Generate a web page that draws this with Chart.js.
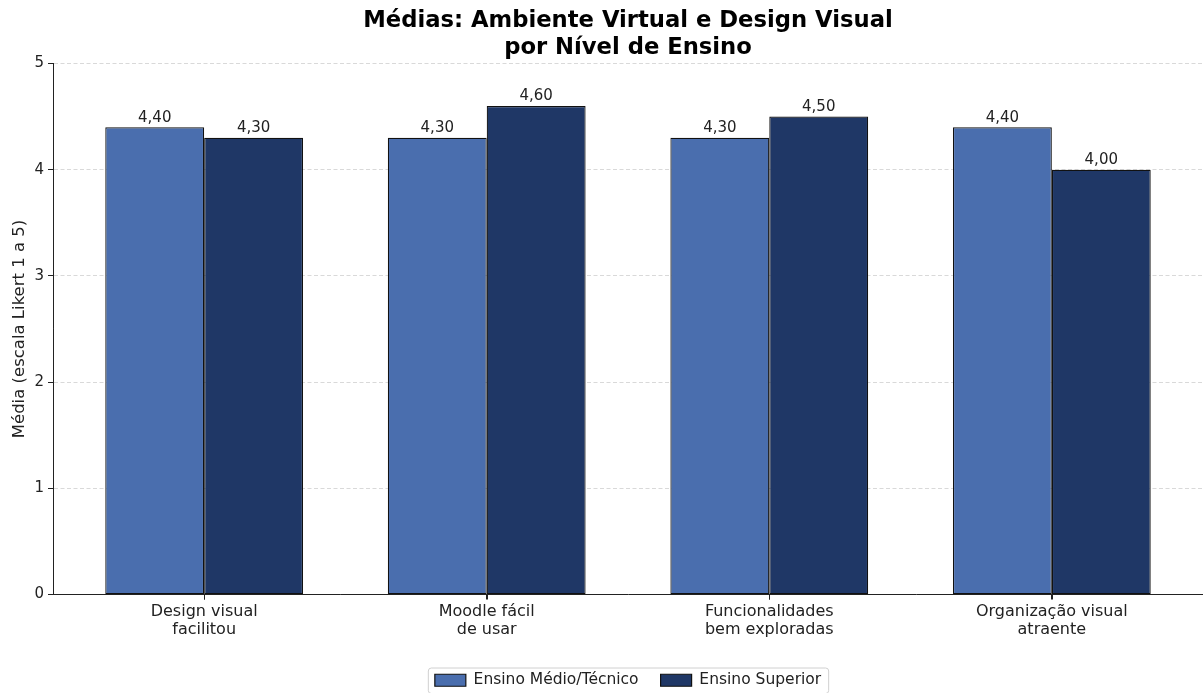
<!DOCTYPE html>
<html lang="pt-BR">
<head>
<meta charset="utf-8">
<title>Médias por Nível de Ensino</title>
<script src="https://cdn.jsdelivr.net/npm/chart.js@4/dist/chart.umd.min.js"></script>
<style>
    html, body { margin: 0; padding: 0; background: #ffffff; }
    #wrap { width: 1203px; height: 693px; }
</style>
</head>
<body>
<div id="wrap"><canvas id="mediasChart" width="1203" height="693"></canvas></div>
<script>
// Itens avaliados (eixo x) e médias por grupo
const categories = [
    ['Design visual', 'facilitou'],
    ['Moodle fácil', 'de usar'],
    ['Funcionalidades', 'bem exploradas'],
    ['Organização visual', 'atraente']
];
const medioTecnico = [4.40, 4.30, 4.30, 4.40];
const superior = [4.30, 4.60, 4.50, 4.00];
const yTicks = [0, 1, 2, 3, 4, 5];

const FONT = 'DejaVu Sans';
const TEXT = '#222222';

// Escreve o valor de cada barra logo acima dela (formato 4,40)
const valueLabels = {
    id: 'valueLabels',
    afterDatasetsDraw(chart) {
        const ctx = chart.ctx;
        ctx.save();
        ctx.font = `15px "${FONT}"`;
        ctx.fillStyle = TEXT;
        ctx.textAlign = 'center';
        ctx.textBaseline = 'bottom';
        chart.data.datasets.forEach((ds, di) => {
            chart.getDatasetMeta(di).data.forEach((bar, i) => {
                const v = ds.data[i].y;
                ctx.fillText(v.toFixed(2).replace('.', ','), bar.x, bar.y - 2);
            });
        });
        ctx.restore();
    }
};

// Marcas de tique do eixo x, centradas em cada grupo
const xTickMarks = {
    id: 'xTickMarks',
    afterDraw(chart) {
        const xs = chart.scales.x;
        const ctx = chart.ctx;
        ctx.save();
        ctx.strokeStyle = TEXT;
        ctx.lineWidth = 1;
        ctx.beginPath();
        categories.forEach((c, i) => {
            const px = Math.round(xs.getPixelForValue(i)) + 0.5;
            ctx.moveTo(px, xs.top);
            ctx.lineTo(px, xs.top + 5);
        });
        ctx.stroke();
        ctx.restore();
    }
};

// Moldura da legenda, no estilo do matplotlib
const legendFrame = {
    id: 'legendFrame',
    afterDraw(chart) {
        const boxes = chart.legend.legendHitBoxes;
        if (!boxes || !boxes.length) return;
        const first = boxes[0];
        const last = boxes[boxes.length - 1];
        const x0 = first.left - 7;
        const x1 = last.left + last.width + 7;
        const y0 = first.top - 5;
        const y1 = first.top + first.height + 5;
        const ctx = chart.ctx;
        ctx.save();
        ctx.strokeStyle = '#d0d0d0';
        ctx.lineWidth = 1;
        ctx.beginPath();
        ctx.roundRect(x0 + 0.5, y0 + 0.5, x1 - x0, y1 - y0, 3);
        ctx.stroke();
        ctx.restore();
    }
};

const ctx = document.getElementById('mediasChart').getContext('2d');

new Chart(ctx, {
    type: 'bar',
    data: {
        datasets: [
            {
                label: 'Ensino Médio/Técnico',
                data: medioTecnico.map((v, i) => ({ x: i, y: v })),
                backgroundColor: '#4a6eae',
                borderColor: '#111111',
                borderWidth: 1.2,
                borderSkipped: false,
                categoryPercentage: 0.7,
                barPercentage: 1.0
            },
            {
                label: 'Ensino Superior',
                data: superior.map((v, i) => ({ x: i, y: v })),
                backgroundColor: '#1f3766',
                borderColor: '#111111',
                borderWidth: 1.2,
                borderSkipped: false,
                categoryPercentage: 0.7,
                barPercentage: 1.0
            }
        ]
    },
    options: {
        responsive: false,
        animation: false,
        layout: { padding: { left: 0, right: 0, top: 0, bottom: -5 } },
        plugins: {
            title: {
                display: true,
                text: ['Médias: Ambiente Virtual e Design Visual', 'por Nível de Ensino'],
                color: '#000000',
                fullSize: false,
                font: { family: FONT, size: 22.7, weight: 'bold', lineHeight: 1.2 },
                padding: { top: 7, bottom: 2 }
            },
            legend: {
                position: 'bottom',
                fullSize: false,
                labels: {
                    color: TEXT,
                    font: { family: FONT, size: 15.5 },
                    boxWidth: 31,
                    boxHeight: 12,
                    padding: 22
                }
            },
            tooltip: { enabled: false }
        },
        scales: {
            x: {
                type: 'linear',
                min: -0.535,
                max: 3.535,
                offset: false,
                afterBuildTicks(scale) {
                    scale.ticks = categories.map((c, i) => ({ value: i }));
                },
                afterFit(scale) {
                    scale.height = 56;
                },
                ticks: {
                    color: TEXT,
                    font: { family: FONT, size: 16, lineHeight: 1.1 },
                    padding: 4,
                    autoSkip: false,
                    maxRotation: 0,
                    callback: (value) => categories[value]
                },
                grid: {
                    offset: false,
                    drawOnChartArea: false,
                    tickLength: 5,
                    tickColor: TEXT,
                    color: TEXT
                },
                border: { color: TEXT, width: 1 }
            },
            y: {
                min: 0,
                max: 5,
                afterBuildTicks(scale) {
                    scale.ticks = yTicks.map(v => ({ value: v }));
                },
                afterFit(scale) {
                    scale.width = 53;
                },
                ticks: {
                    color: TEXT,
                    font: { family: FONT, size: 15 },
                    padding: 4
                },
                grid: {
                    color: '#cfcfcf',
                    lineWidth: 0.8,
                    tickLength: 5,
                    tickColor: TEXT,
                    tickWidth: 1
                },
                border: { color: TEXT, width: 1, dash: [4, 2.5] },
                title: {
                    display: true,
                    text: 'Média (escala Likert 1 a 5)',
                    color: TEXT,
                    font: { family: FONT, size: 16.5 },
                    padding: { top: 10, bottom: 0 }
                }
            }
        }
    },
    plugins: [valueLabels, xTickMarks, legendFrame]
});
</script>
</body>
</html>
